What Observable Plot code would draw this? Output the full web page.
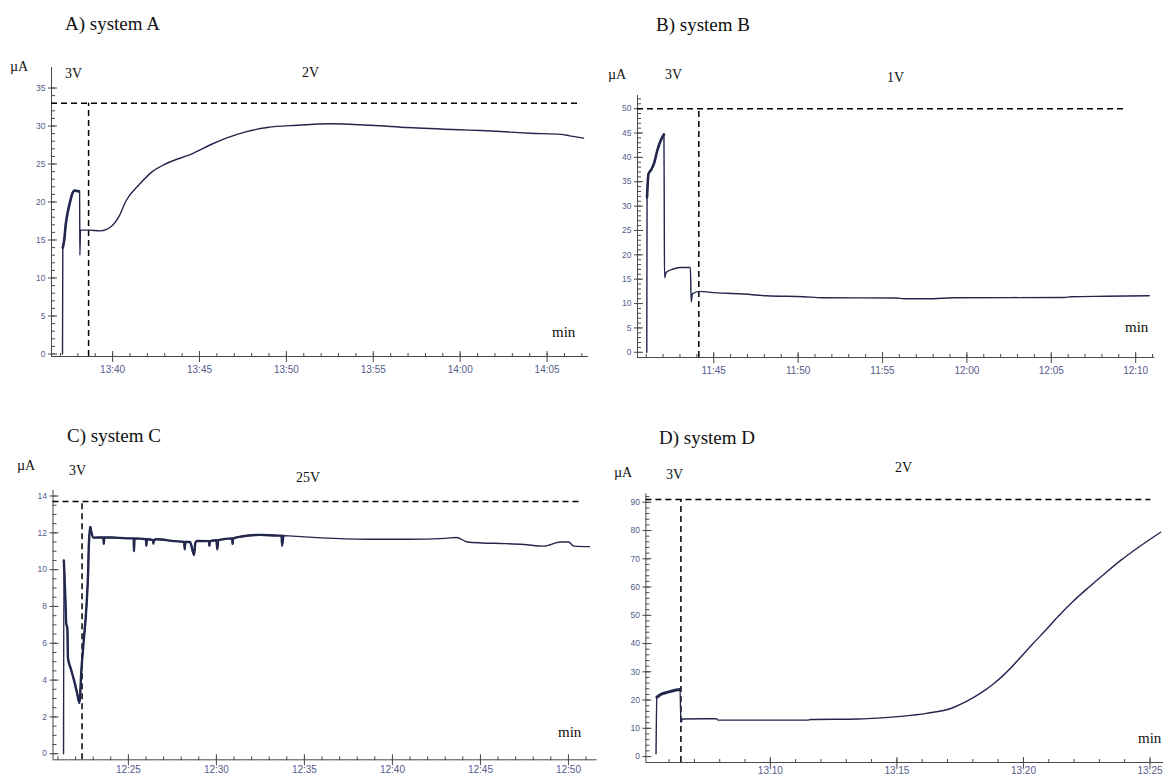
<!DOCTYPE html>
<html><head><meta charset="utf-8">
<script src="https://cdn.jsdelivr.net/npm/d3@7"></script>
<script src="https://cdn.jsdelivr.net/npm/@observablehq/plot@0.6"></script>
<style>
body{margin:0;background:#fff;}
#wrap{position:relative;width:1163px;height:778px;overflow:hidden;background:#fff;}
#wrap > svg{position:absolute;}
</style></head><body><div id="wrap"></div>
<script>
// ---------- Panel A: system A ----------
const timeA = ["13:37:07","13:37:08","13:37:13","13:37:18","13:37:27","13:37:33","13:37:40","13:37:48","13:38:04","13:38:06","13:38:07","13:38:09","13:38:36","13:39:18","13:39:56","13:40:22","13:40:47","13:41:32","13:42:17","13:43:08","13:44:38","13:45:42","13:46:32","13:47:36","13:48:54","13:50:36","13:52:30","13:54:52","13:57:00","14:00:00","14:01:12","14:02:54","14:04:00","14:05:48","14:06:18","14:07:06"];
const currentA = [0,14,15,17,19,20,21,21.5,21.4,21.3,13,16.3,16.3,16.2,16.8,18.1,20.2,22.3,24.0,25.1,26.4,27.6,28.4,29.2,29.8,30.1,30.3,30.1,29.8,29.5,29.4,29.2,29.05,28.9,28.7,28.4];
const xTicksA = ["13:40","13:45","13:50","13:55","14:00","14:05"];
const yTicksA = [0,5,10,15,20,25,30,35];
const limitA = 33, switchA = "13:38:37", limitEndA = "14:06:54";
const noisyA = [["13:37:08","13:38:04"]];

// ---------- Panel B: system B ----------
const timeB = ["11:41:02","11:41:03","11:41:08","11:41:18","11:41:29","11:41:38","11:41:47","11:42:03","11:42:04","11:42:05","11:42:11","11:42:37","11:43:04","11:43:37","11:43:40","11:43:44","11:44:10","11:44:49","11:46:35","11:48:08","11:50:20","11:51:26","11:55:50","11:56:16","11:58:00","11:59:06","12:05:45","12:06:12","12:08:12","12:10:48"];
const currentB = [0,31.8,36.6,37.5,39,41.1,42.8,44.7,31.5,15.3,16.4,17.1,17.4,17.4,10.3,12.0,12.5,12.3,12.0,11.6,11.4,11.2,11.15,11.0,11.0,11.2,11.25,11.4,11.5,11.6];
const xTicksB = ["11:45","11:50","11:55","12:00","12:05","12:10"];
const yTicksB = [0,5,10,15,20,25,30,35,40,45,50];
const limitB = 50, switchB = "11:44:07", limitEndB = "12:09:18";
const noisyB = [["11:41:03","11:42:03"]];

// ---------- Panel C: system C ----------
const timeC = ["12:21:19","12:21:20","12:21:25","12:21:28","12:21:32","12:21:34","12:21:44","12:21:57","12:22:05","12:22:13","12:22:20","12:22:27","12:22:37","12:22:43","12:22:45","12:22:50","12:23:00","12:23:35","12:23:36","12:23:38","12:24:03","12:24:54","12:25:18","12:25:19","12:25:21","12:26:00","12:26:01","12:26:03","12:26:24","12:26:25","12:26:27","12:26:35","12:27:36","12:28:10","12:28:12","12:28:14","12:28:30","12:28:44","12:28:48","12:28:54","12:29:35","12:29:36","12:29:38","12:30:00","12:30:03","12:30:06","12:30:54","12:30:55","12:30:57","12:31:25","12:32:28","12:33:32","12:33:42","12:33:44","12:33:48","12:35:00","12:36:41","12:38:47","12:40:54","12:43:00","12:43:38","12:44:16","12:45:06","12:46:10","12:47:27","12:48:36","12:49:33","12:50:00","12:50:18","12:51:12"];
const currentC = [0,10.5,8.5,7.1,6.8,5.2,4.6,3.85,3.3,2.76,4.6,6.0,8.0,10.0,11.3,12.3,11.74,11.75,11.4,11.75,11.75,11.7,11.7,11.0,11.7,11.65,11.3,11.65,11.6,11.4,11.6,11.65,11.55,11.5,11.1,11.5,11.5,10.8,11.45,11.56,11.55,11.3,11.55,11.6,11.1,11.6,11.7,11.4,11.7,11.8,11.89,11.85,11.85,11.3,11.85,11.78,11.7,11.65,11.65,11.7,11.75,11.5,11.45,11.42,11.37,11.28,11.5,11.5,11.28,11.25];
const xTicksC = ["12:25","12:30","12:35","12:40","12:45","12:50"];
const yTicksC = [0,2,4,6,8,10,12,14];
const limitC = 13.7, switchC = "12:22:22", limitEndC = "12:50:47";
const noisyC = [["12:21:20","12:22:50"], ["12:22:50","12:34:00"]];

// ---------- Panel D: system D ----------
const timeD = ["13:05:29","13:05:31","13:05:39","13:05:57","13:06:10","13:06:26","13:06:28","13:06:32","13:07:52","13:07:56","13:11:27","13:11:36","13:13:30","13:14:15","13:15:16","13:16:10","13:17:11","13:17:46","13:18:22","13:18:48","13:19:14","13:19:50","13:20:20","13:20:52","13:21:22","13:21:58","13:22:37","13:23:13","13:23:52","13:24:32","13:25:25"];
const currentD = [1,21,21.9,22.8,23.3,23.7,12.1,13.3,13.4,12.9,12.9,13.1,13.3,13.6,14.3,15.3,17.2,19.6,22.8,25.6,29.0,34.6,39.6,44.6,49.6,55.0,60.2,64.8,69.6,74.0,79.4];
const xTicksD = ["13:10","13:15","13:20","13:25"];
const yTicksD = [0,10,20,30,40,50,60,70,80,90];
const limitD = 91, switchD = "13:06:28", limitEndD = "13:25:02";
const noisyD = [["13:05:31","13:06:26"]];

// ---------- helpers ----------
const parse = s => new Date(`2000-01-01T${s.length === 5 ? s + ":00" : s}Z`);
const LINE = "#23264d", TICKTXT = "#565c8c", AX = "#4a4a4a";
const wrap = document.getElementById("wrap");

function panel(o) {
  const x0 = parse(o.xDomain[0]), x1 = parse(o.xDomain[1]);
  const innerW = o.width - o.mL - o.mR, innerH = o.height - o.mT - o.mB;
  const data = o.times.map((t, i) => ({t: parse(t), v: o.values[i]}));
  const noisy = o.noisy.flatMap(([a, b], k) => data.filter(d => d.t >= parse(a) && d.t <= parse(b)).map(d => ({...d, k})));
  const xMaj = o.xTicks.map(parse);
  const xMin = d3.utcMinute.range(d3.utcMinute.ceil(x0), x1);
  const yMin = d3.range(o.yMinor[0], o.yMinor[1] + 1e-9, o.yMinor[2]);
  const sw = parse(o.switchTime), le = parse(o.limitEnd);
  const dash = {stroke: "#000", strokeWidth: 1.5, strokeDasharray: "6,4"};
  const p = Plot.plot({
    width: o.width, height: o.height,
    marginLeft: o.mL, marginRight: o.mR, marginTop: o.mT, marginBottom: o.mB,
    style: {background: "transparent", overflow: "visible"},
    x: {type: "utc", domain: [x0, x1], label: null},
    y: {domain: o.yDomain, label: null},
    marks: [
      Plot.ruleY([o.yDomain[0]], {stroke: AX, strokeWidth: 1}),
      Plot.ruleX([x0], {stroke: AX, strokeWidth: 1}),
      Plot.tickX(xMin, {x: d => d, insetTop: innerH - 3, insetBottom: -1, stroke: AX}),
      Plot.tickX(xMaj, {x: d => d, insetTop: innerH - 5, insetBottom: -6, stroke: AX}),
      Plot.tickY(yMin, {y: d => d, insetLeft: 0, insetRight: innerW - 4, stroke: AX}),
      Plot.tickY(o.yTicks, {y: d => d, insetLeft: -3, insetRight: innerW - 6, stroke: AX}),
      Plot.axisX(xMaj, {tickSize: 0, tickPadding: o.xPad, tickFormat: d3.utcFormat("%H:%M"), fontSize: 10, fill: TICKTXT, fontFamily: "Liberation Sans, Arial, sans-serif", label: null}),
      Plot.axisY(o.yTicks, {tickSize: 0, tickPadding: 6, fontSize: 8.5, fill: TICKTXT, fontFamily: "Liberation Sans, Arial, sans-serif", label: null}),
      Plot.ruleY([o.limit], {x1: x0, x2: le, ...dash}),
      Plot.ruleX([sw], {y1: o.yDomain[0], y2: o.limit, ...dash}),
      Plot.line(data, {x: "t", y: "v", stroke: LINE, strokeWidth: 1.4, curve: "monotone-x"}),
      Plot.line(noisy, {x: "t", y: "v", z: "k", stroke: LINE, strokeWidth: o.noisyWidth, curve: "monotone-x"})
    ]
  });
  p.style.left = o.left + "px";
  p.style.top = o.top + "px";
  wrap.appendChild(p);
}

panel({left: 0, top: 0, width: 600, height: 380, mL: 51, mR: 12, mT: 67, mB: 24, xPad: 9,
  xDomain: ["13:36:29", "14:07:23"], yDomain: [-0.33, 37.7],
  times: timeA, values: currentA, xTicks: xTicksA, yTicks: yTicksA, yMinor: [0, 35, 1],
  limit: limitA, switchTime: switchA, limitEnd: limitEndA, noisy: noisyA, noisyWidth: 2.6});

panel({left: 580, top: 0, width: 583, height: 380, mL: 57, mR: 8.7, mT: 95, mB: 23, xPad: 9,
  xDomain: ["11:40:29", "12:11:08"], yDomain: [-1.07, 52.7],
  times: timeB, values: currentB, xTicks: xTicksB, yTicks: yTicksB, yMinor: [0, 52, 1],
  limit: limitB, switchTime: switchB, limitEnd: limitEndB, noisy: noisyB, noisyWidth: 2.6});

panel({left: 0, top: 390, width: 600, height: 388, mL: 52.5, mR: 3.3, mT: 100, mB: 18.7, xPad: 6,
  xDomain: ["12:20:43", "12:51:38"], yDomain: [-0.33, 14.3],
  times: timeC, values: currentC, xTicks: xTicksC, yTicks: yTicksC, yMinor: [0, 14, 0.5],
  limit: limitC, switchTime: switchC, limitEnd: limitEndC, noisy: noisyC, noisyWidth: 2.4});

panel({left: 580, top: 390, width: 583, height: 388, mL: 65.4, mR: 0, mT: 103.3, mB: 16, xPad: 4,
  xDomain: ["13:05:05", "13:25:32"], yDomain: [-2.1, 93],
  times: timeD, values: currentD, xTicks: xTicksD, yTicks: yTicksD, yMinor: [0, 92, 2],
  limit: limitD, switchTime: switchD, limitEnd: limitEndD, noisy: noisyD, noisyWidth: 3});

// ---------- annotation text overlay ----------
const labels = [
  {t: "A) system A", x: 65, y: 30, s: 19}, {t: "µA", x: 10, y: 71, s: 14}, {t: "3V", x: 65, y: 78, s: 14}, {t: "2V", x: 302, y: 77, s: 14}, {t: "min", x: 552, y: 337, s: 15},
  {t: "B) system B", x: 656, y: 31, s: 19}, {t: "µA", x: 608, y: 79, s: 14}, {t: "3V", x: 665, y: 79, s: 14}, {t: "1V", x: 887, y: 82, s: 14}, {t: "min", x: 1125, y: 332, s: 15},
  {t: "C) system C", x: 67, y: 442, s: 19}, {t: "µA", x: 17, y: 470, s: 14}, {t: "3V", x: 69, y: 475, s: 14}, {t: "25V", x: 296, y: 482, s: 14}, {t: "min", x: 558, y: 737, s: 15},
  {t: "D) system D", x: 659, y: 444, s: 19}, {t: "µA", x: 614, y: 477, s: 14}, {t: "3V", x: 666, y: 479, s: 14}, {t: "2V", x: 895, y: 472, s: 14}, {t: "min", x: 1138, y: 743, s: 15}
];
const ov = d3.create("svg").attr("width", 1163).attr("height", 778).style("left", "0px").style("top", "0px").style("pointer-events", "none");
ov.selectAll("text").data(labels).join("text")
  .attr("x", d => d.x).attr("y", d => d.y)
  .attr("font-family", "Liberation Serif, Times New Roman, serif")
  .attr("font-size", d => d.s).attr("fill", "#111").text(d => d.t);
wrap.appendChild(ov.node());
</script></body></html>
